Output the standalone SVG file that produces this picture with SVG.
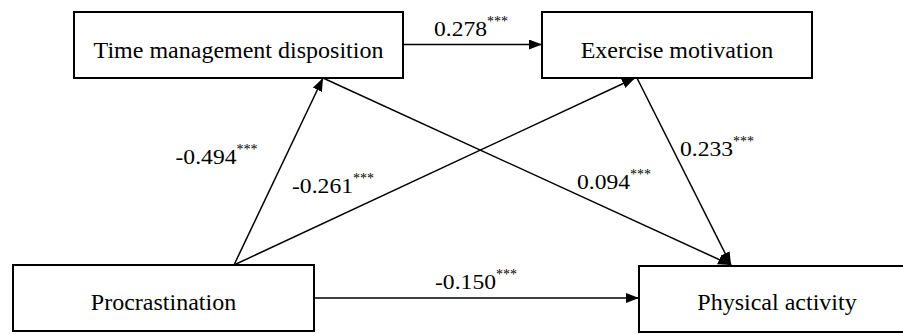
<svg xmlns="http://www.w3.org/2000/svg" width="903" height="334" viewBox="0 0 903 334">
<style>
.box{fill:#fff;stroke:#000;stroke-width:2}
.nt{font-size:24px;fill:#000;text-anchor:middle}
.lb{font-size:21px;fill:#000}
.sup{font-size:14px}
.cn line{stroke:#000;stroke-width:1.5;marker-end:url(#ah)}
</style>
<defs>
<marker id="ah" markerUnits="userSpaceOnUse" markerWidth="14" markerHeight="11" refX="13" refY="5" orient="auto">
<path d="M0,0 L13,5 L0,10 z" fill="#000"/>
</marker>
</defs>
<rect width="903" height="334" fill="#fff"/>
<g id="connectors" class="cn">
<line x1="403" y1="44.5" x2="542" y2="44.5"/>
<line x1="234" y1="265" x2="323" y2="78"/>
<line x1="234" y1="265" x2="635" y2="78"/>
<line x1="323" y1="78" x2="731" y2="265"/>
<line x1="637" y1="78" x2="731" y2="265"/>
<line x1="314" y1="298" x2="639" y2="298"/>
</g>
<g font-family="Liberation Serif, Times New Roman, DejaVu Serif, serif">
<g id="node-tmd">
<rect class="box" x="74" y="12" width="329" height="66"/>
<text class="nt" x="238.5" y="57.5">Time management disposition</text>
</g>
<g id="node-em">
<rect class="box" x="542" y="12" width="270" height="66"/>
<text class="nt" x="677" y="57.5">Exercise motivation</text>
</g>
<g id="node-proc">
<rect class="box" x="13" y="265" width="301" height="66"/>
<text class="nt" x="163.5" y="309.5">Procrastination</text>
</g>
<g id="node-pa">
<rect class="box" x="639" y="266" width="276" height="66"/>
<text class="nt" x="777" y="310">Physical activity</text>
</g>
<g id="labels">
<text class="lb" x="434" y="36"><tspan textLength="53" lengthAdjust="spacingAndGlyphs">0.278</tspan><tspan class="sup" dy="-10">***</tspan></text>
<text class="lb" x="175.5" y="163.5"><tspan textLength="61" lengthAdjust="spacingAndGlyphs">-0.494</tspan><tspan class="sup" dy="-10">***</tspan></text>
<text class="lb" x="292" y="193"><tspan textLength="61" lengthAdjust="spacingAndGlyphs">-0.261</tspan><tspan class="sup" dy="-10">***</tspan></text>
<text class="lb" x="577" y="188.5"><tspan textLength="53" lengthAdjust="spacingAndGlyphs">0.094</tspan><tspan class="sup" dy="-10">***</tspan></text>
<text class="lb" x="680" y="155.5"><tspan textLength="53" lengthAdjust="spacingAndGlyphs">0.233</tspan><tspan class="sup" dy="-10">***</tspan></text>
<text class="lb" x="435" y="288.5"><tspan textLength="61" lengthAdjust="spacingAndGlyphs">-0.150</tspan><tspan class="sup" dy="-10">***</tspan></text>
</g>
</g>
</svg>
